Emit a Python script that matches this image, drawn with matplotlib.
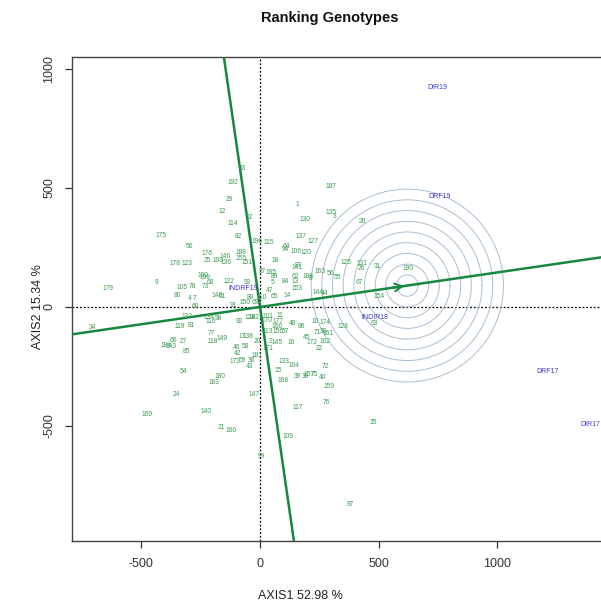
import matplotlib
matplotlib.use("Agg")
import matplotlib.pyplot as plt
import numpy as np

plt.rcParams['font.family'] = ['Liberation Sans', 'DejaVu Sans']
plt.rcParams['axes.unicode_minus'] = False

# ---- data ----
gen_labels = ["83","192","29","12","52","114","82","175","50","176","25","193","146","136",
    "188","155","151","196","178","123","9","179","100","199","68","73","122","93","105","78",
    "80","148","61","4","7","60",
    "187","1","130","135","3","28","137","127","115","64","94","106","120","18","125","131",
    "26","31","87","141","37","185","89","62","186","8","163","56","55","67","5","84","13",
    "153","144","44","154","65","14","190","63","128","35",
    "34","119","81","132","134","116","98","92","124","182","77","118","149","66","27","184",
    "143","85","17","138","46","58","20","42","173","59","36","43","181","54","180","183","24",
    "147","140","169","21","160",
    "11","101","177","170","166","113","156","57","48","96","10","174","71","38","161","162",
    "45","172","22","2","145","16","171","133","104","15","72","168","39","30","157","75","40",
    "159","76","117","109","99","97",
    "88","69","150","110","47","91"]
gen_x = [-76,-114,-131,-160,-46,-114,-93,-417,-299,-223,-223,-177,-147,-143,
    -80,-80,-55,-13,-358,-307,-434,-640,-240,-232,-211,-232,-131,-55,-328,-286,
    -349,-181,-160,-295,-274,-274,
    299,156,190,299,312,429,173,223,38,109,109,152,194,63,362,429,
    425,493,160,156,8,46,59,147,202,211,253,295,328,417,51,109,147,
    156,244,274,501,59,114,623,480,350,476,
    -707,-337,-291,-307,-215,-206,-177,-88,-42,-25,-206,-198,-160,-366,-324,-396,
    -375,-312,-76,-51,-97,-63,-13,-93,-105,-76,-34,-46,-13,-324,-168,-194,-354,
    -25,-227,-476,-164,-122,
    84,34,76,29,72,34,76,105,139,173,232,274,240,265,286,274,
    198,219,248,46,72,130,34,101,143,76,274,97,156,190,206,227,265,
    290,278,160,118,4,379,
    -42,-21,-63,8,42,-114]
gen_y = [580,521,450,399,374,349,298,302,256,223,197,197,214,185,
    227,202,185,273,181,181,101,76,134,122,101,84,105,101,80,84,
    50,50,42,34,34,0,
    504,429,366,395,378,357,294,277,269,252,240,235,227,197,185,181,
    160,168,176,164,147,143,130,130,126,118,147,139,122,101,101,105,105,
    76,59,55,42,42,50,160,-71,-84,-487,
    -88,-84,-76,-42,-46,-63,-50,-63,-46,-46,-113,-147,-134,-139,-143,-160,
    -164,-189,-126,-122,-172,-168,-143,-197,-231,-223,-223,-252,-202,-269,-294,-319,-366,
    -366,-441,-450,-508,-517,
    -34,-38,-59,-55,-84,-101,-105,-105,-71,-80,-63,-67,-109,-105,-113,-143,
    -130,-151,-176,-147,-151,-151,-176,-231,-244,-265,-252,-307,-294,-294,-282,-282,-298,
    -336,-403,-424,-542,-626,-828,
    38,17,17,38,71,8]

env_labels = ["DIR19","DRF19","INDIR18","DRF17","DIR17","INDRF19"]
env_x = [746, 758, 484, 1213, 1390, -72]
env_y = [920, 462, -46, -273, -492, 76]

ideal = (620, 90)          # arrow head / centre of the circles
n_circles = 9
circle_step = 45

xlim = (-792, 1436)
ylim = (-983, 1050)

# ---- figure ----
fig = plt.figure(figsize=(6.01, 6.02), dpi=100)
ax = fig.add_axes([72/601, (602-541)/602, (601-72)/601, (541-57)/602])
ax.set_xlim(*xlim)
ax.set_ylim(*ylim)

line_col = "#17883f"
gen_col = "#3a9a52"
env_col = "#3b3bc4"

# reference dotted axes
ax.axhline(0, color="black", ls=(0, (1.5, 1.5)), lw=0.9, zorder=1)
ax.axvline(0, color="black", ls=(0, (1.5, 1.5)), lw=0.9, zorder=1)

# average environment axis and its perpendicular
slope = ideal[1] / ideal[0]
t = np.array([-5000, 5000])
ax.plot(t, slope * t, color=line_col, lw=1.8, zorder=3)
ax.plot(-slope * t, t, color=line_col, lw=1.8, zorder=3)

# concentric circles
theta = np.linspace(0, 2 * np.pi, 300)
for k in range(1, n_circles + 1):
    r = k * circle_step
    ax.plot(ideal[0] + r * np.cos(theta), ideal[1] + r * np.sin(theta),
            color="#a9bfd2", lw=0.7, zorder=2)

# arrow
ax.annotate("", xy=ideal, xytext=(ideal[0] - 80, ideal[1] - 80 * slope),
            arrowprops=dict(arrowstyle="->", color=line_col, lw=1.4,
                            mutation_scale=14), zorder=4)

# genotype labels
for lab, x, y in zip(gen_labels, gen_x, gen_y):
    ax.text(x, y, lab, color=gen_col, fontsize=4.8, ha="center", va="center", zorder=5)

# environment labels
for lab, x, y in zip(env_labels, env_x, env_y):
    ax.text(x, y, lab, color=env_col, fontsize=5, ha="center", va="center", zorder=5)

# axes styling (R-like)
ax.spines['right'].set_visible(False)
for s in ['left', 'bottom', 'top']:
    ax.spines[s].set_color("#4a4040")
    ax.spines[s].set_linewidth(1.0)
ax.set_xticks([-500, 0, 500, 1000])
ax.set_yticks([-500, 0, 500, 1000])
ax.tick_params(direction="out", length=5, width=0.9, colors="#333333",
               labelsize=9, pad=7)
for lbl in ax.get_yticklabels():
    lbl.set_rotation(90)
    lbl.set_va("center")

fig.text(38/601, 1 - 307/602, "AXIS2 15.34 %", rotation=90, ha="center", va="center",
         fontsize=9, color="#222222")
fig.text(300/601, 1 - 596/602, "AXIS1 52.98 %", ha="center", va="center",
         fontsize=9, color="#222222")
fig.text(330/601, 1 - 18/602, "Ranking Genotypes", ha="center", va="center",
         fontsize=10.5, fontweight="bold", color="#111111")

fig.savefig("out.png", dpi=100)
